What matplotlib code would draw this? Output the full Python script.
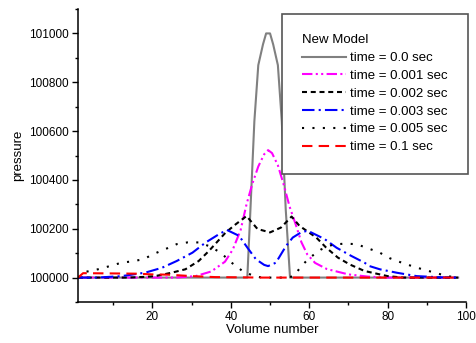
import numpy as np
import matplotlib
matplotlib.use("Agg")
import matplotlib.pyplot as plt
from matplotlib.ticker import MultipleLocator

plt.rcParams['font.family'] = ['Liberation Sans', 'DejaVu Sans']

# time = 0.0 sec
x0 = [1, 44.2, 45, 46, 47, 48.2, 49, 50, 50.8, 52, 53, 54, 55.1, 98]
p0 = [100000, 100000, 100280, 100640, 100870, 100955, 101000, 101000, 100955, 100870, 100640, 100280, 100000, 100000]

# time = 0.001 sec
x1 = [1, 26, 31, 35, 38.5, 40.5, 42.5, 44, 45.5, 47, 48.5, 49.5, 50.5, 52, 53.5, 55, 56.5, 58, 59.5, 61.5, 64.5, 70, 75, 80, 98]
p1 = [100000, 100000, 100006, 100025, 100065, 100115, 100195, 100300, 100385, 100455, 100505, 100522, 100510,
      100460, 100380, 100290, 100220, 100145, 100095, 100060, 100035, 100013, 100004, 100000, 100000]

# time = 0.002 sec
x2 = [1, 14, 18, 20.7, 24.9, 28.4, 31.8, 34.4, 38.7, 41.3, 44, 46.8, 50, 52.8, 55.5, 57.5, 61.8, 64.3, 67.3, 70.3, 74.1, 80, 84, 98]
p2 = [100000, 100000, 100003, 100006, 100020, 100034, 100068, 100109, 100185, 100219, 100252, 100199, 100185,
      100205, 100250, 100212, 100164, 100123, 100082, 100054, 100027, 100006, 100000, 100000]

# time = 0.003 sec
x3 = [1, 6, 12.1, 18.1, 22.4, 26.2, 30.2, 33.6, 37, 39, 42.1, 44.2, 46.4, 48.5, 49.5, 51.5, 54.1, 55.8, 57.9, 59.6,
      63.9, 67, 70.7, 74.1, 75.4, 78, 82.3, 87.4, 95, 98]
p3 = [100000, 100000, 100006, 100020, 100040, 100068, 100102, 100144, 100178, 100195, 100171, 100123, 100075,
      100052, 100047, 100061, 100130, 100164, 100185, 100192, 100158, 100122, 100089, 100061, 100047, 100034,
      100020, 100006, 100000, 100000]

# time = 0.005 sec
x5 = [1, 3.1, 6.1, 9.1, 12.1, 14.6, 17.7, 20.2, 23.2, 26.2, 28.9, 31.8, 34.6, 37.4, 40.2, 43.2, 46.2, 48, 54, 56,
      58, 60, 63, 66, 69, 72, 75, 78, 80.6, 83.6, 86.6, 89.5, 92.1, 95.1, 98]
p5 = [100000, 100024, 100034, 100047, 100061, 100066, 100075, 100096, 100116, 100137, 100144, 100144, 100128,
      100102, 100061, 100024, 100005, 100000, 100000, 100005, 100047, 100080, 100115, 100135, 100139, 100137,
      100120, 100102, 100079, 100061, 100045, 100031, 100020, 100006, 100000]

# time = 0.1 sec
x6 = [1, 2.3, 10, 16, 20, 24, 26, 30, 36, 42, 48, 98]
p6 = [100000, 100018, 100017, 100016, 100013, 100012, 100010, 100006, 100002, 100001, 100000, 100000]

labels = ['time = 0.0 sec', 'time = 0.001 sec', 'time = 0.002 sec',
          'time = 0.003 sec', 'time = 0.005 sec', 'time = 0.1 sec']

fig = plt.figure(figsize=(4.76, 3.43), dpi=100)
ax = fig.add_axes([78/476, 1-302/343, (466-78)/476, (302-9)/343])

lw = 1.5
ax.plot(x0, p0, color='#808080', lw=lw, label=labels[0])
ax.plot(x1, p1, color='#ff00ff', lw=lw, ls=(0, (5, 1.6, 1, 1.6, 1, 1.6)), label=labels[1])
ax.plot(x2, p2, color='black', lw=lw, ls=(0, (2.4, 1.8)), label=labels[2])
ax.plot(x3, p3, color='#0000ff', lw=lw, ls=(0, (6, 2, 1, 2)), label=labels[3])
ax.plot(x5, p5, color='black', lw=lw, ls=(0, (1, 4)), label=labels[4])
ax.plot(x6, p6, color='#ff0000', lw=lw, ls=(0, (5, 3)), label=labels[5])

ax.set_xlim(1, 100)
ax.set_ylim(99900, 101100)
ax.xaxis.set_major_locator(MultipleLocator(20))
ax.xaxis.set_minor_locator(MultipleLocator(10))
ax.yaxis.set_major_locator(MultipleLocator(200))
ax.yaxis.set_minor_locator(MultipleLocator(100))
ax.tick_params(which='major', direction='out', length=4.5, width=1, labelsize=8.5, pad=2)
ax.tick_params(which='minor', direction='out', length=2.5, width=1)
for s in ['top', 'right']:
    ax.spines[s].set_visible(False)
for s in ['left', 'bottom']:
    ax.spines[s].set_linewidth(1.1)

ax.set_xlabel('Volume number', fontsize=9.5, labelpad=1)
ax.set_ylabel('pressure', fontsize=9.5, labelpad=4)

leg = ax.legend(title='New Model', loc='upper right',
                bbox_to_anchor=(468/476, 1-14/343), bbox_transform=fig.transFigure,
                borderaxespad=0, fontsize=9.5, title_fontsize=9.5, alignment='left',
                handlelength=3.3, handletextpad=0.3, labelspacing=0.42,
                borderpad=1.55, fancybox=False, framealpha=1)
leg.get_frame().set_edgecolor('#555555')
leg.get_frame().set_linewidth(1.2)

fig.savefig('out.png', dpi=100)
